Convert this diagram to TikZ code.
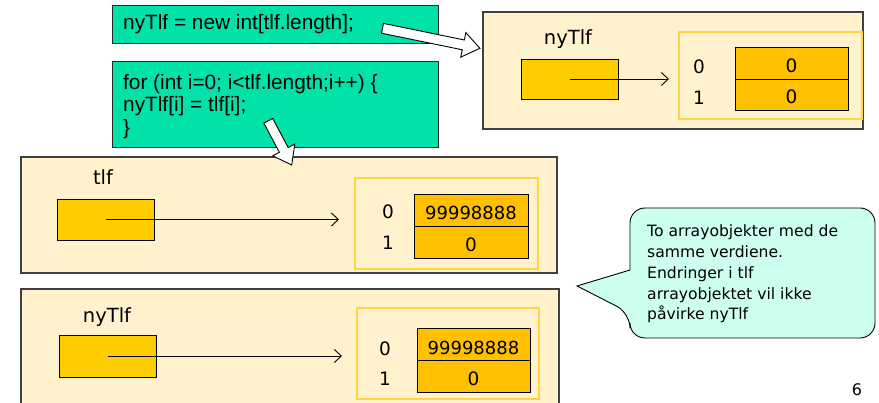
\documentclass[tikz,border=0pt]{standalone}
\usepackage{fontspec}
\setmainfont{Liberation Sans}
\newfontfamily\tah{DejaVu Sans}
\usetikzlibrary{arrows.meta}
\definecolor{codegreen}{RGB}{0,226,168}
\definecolor{lightyel}{RGB}{255,242,204}
\definecolor{outlineyel}{RGB}{255,214,64}
\definecolor{ptryel}{RGB}{255,204,0}
\definecolor{cellyel}{RGB}{255,192,0}
\definecolor{mint}{RGB}{204,255,236}
\definecolor{darkedge}{RGB}{64,64,64}
\begin{document}
\begin{tikzpicture}[x=1pt,y=-1pt,
  box/.style={inner sep=0pt, outer sep=0pt},
  codebox/.style={box, draw=black!85, fill=codegreen, line width=0.9pt},
  heapbox/.style={box, draw=darkedge, fill=lightyel, line width=1.2pt},
  arrbox/.style={box, draw=outlineyel, fill=lightyel, line width=1.1pt},
  ptrbox/.style={box, draw=black, fill=ptryel, line width=0.9pt, minimum width=97pt, minimum height=41pt},
  cellbox/.style={box, draw=black, fill=cellyel, line width=0.9pt, minimum width=113pt, minimum height=32pt},
  codetxt/.style={inner sep=0pt, font=\fontsize{20.8}{22.5}\selectfont, align=left},
  lbl/.style={inner sep=0pt, anchor=base, font=\tah\fontsize{19.5}{22}\selectfont},
  num/.style={inner sep=0pt, anchor=base, font=\tah\fontsize{18.5}{20}\selectfont},
  ref/.style={line width=0.9pt, -{Straight Barb[length=7pt,width=13pt,line width=0.9pt]}},
  blockarrow/.style={draw=black, fill=white, line width=0.9pt, line join=miter}
]
\useasboundingbox (0,0) rectangle (879,403);
\clip (0,0) rectangle (879,403);

% ---------- code boxes ----------
\node[codebox, minimum width=326pt, minimum height=38pt] (code1) at (275,24) {};
\node[codetxt, anchor=base west] (code1t) at (123,30) {nyTlf = new int[tlf.length];};
\node[codebox, minimum width=326pt, minimum height=86pt] (code2) at (275,104) {};
\node[codetxt, anchor=north west] (code2t) at (123,74)
  {for (int i=0; i<tlf.length;i++) \{\\ nyTlf[i] = tlf[i];\\ \}};

% ---------- top right object ----------
\node[heapbox, minimum width=380pt, minimum height=117pt] (objA) at (673,70.5) {};
\node[arrbox, minimum width=183pt, minimum height=87pt] (arrA) at (770.5,75.5) {};
\node[lbl] (labA) at (568,45) {nyTlf};
\node[ptrbox, minimum height=40pt] (ptrA) at (569.5,79) {};
\node[cellbox] (cA0) at (791.5,63) {};
\node[cellbox, minimum height=31pt] (cA1) at (791.5,94.5) {};
\node[num] (iA0) at (699,74) {0};
\node[num] (iA1) at (699,105) {1};
\node[num] (vA0) at (791.5,72.7) {0};
\node[num] (vA1) at (791.5,104) {0};
\coordinate (eA) at (669,79);
\draw[ref] (ptrA.center) -- (eA);

% ---------- tlf object ----------
\node[heapbox, minimum width=536pt, minimum height=116pt] (objB) at (289,215) {};
\node[arrbox, minimum width=183pt, minimum height=91pt] (arrB) at (446.5,223.5) {};
\node[lbl] (labB) at (103,185) {tlf};
\node[ptrbox] (ptrB) at (105.5,219.5) {};
\node[cellbox, minimum width=114pt] (cB0) at (471,210) {};
\node[cellbox, minimum width=114pt] (cB1) at (471,242) {};
\node[num] (iB0) at (388,219) {0};
\node[num] (iB1) at (388,250) {1};
\node[num, font=\tah\fontsize{18}{20}\selectfont] (vB0) at (471,220) {99998888};
\node[num] (vB1) at (471,251.5) {0};
\coordinate (eB) at (339,219.5);
\draw[ref] (ptrB.center) -- (eB);

% ---------- nyTlf object (bottom) ----------
\node[heapbox, minimum width=538pt, minimum height=131pt] (objC) at (290,354.5) {};
\node[arrbox, minimum width=182pt, minimum height=91pt] (arrC) at (448,353.5) {};
\node[lbl] (labC) at (107,323) {nyTlf};
\node[ptrbox, minimum height=42pt] (ptrC) at (107.5,356) {};
\node[cellbox] (cC0) at (473.5,344) {};
\node[cellbox] (cC1) at (473.5,376) {};
\node[num] (iC0) at (385,356) {0};
\node[num] (iC1) at (385,386) {1};
\node[num, font=\tah\fontsize{18}{20}\selectfont] (vC0) at (473.5,355) {99998888};
\node[num] (vC1) at (473.5,386) {0};
\coordinate (eC) at (342,356);
\draw[ref] (ptrC.center) -- (eC);

% ---------- block arrows ----------
\begin{scope}[shift={(382.5,28.3)}, rotate=-11.6]
  \draw[blockarrow] (0,-5) -- (82.5,-5) -- (82.5,-12.5) -- (99.5,0) -- (82.5,12.5) -- (82.5,5) -- (0,5) -- cycle;
\end{scope}
\begin{scope}[shift={(268.3,120.8)}, rotate=-62.1]
  \draw[blockarrow] (0,-5) -- (33,-5) -- (33,-12.5) -- (50,0) -- (33,12.5) -- (33,5) -- (0,5) -- cycle;
\end{scope}

% ---------- callout ----------
\draw[fill=mint, draw=black, line width=0.9pt]
  (630,270) [rounded corners=15pt] -- (630,208) -- (875,208) -- (875,338) -- (630,338) -- (630,313) [sharp corners] -- (577,286) -- cycle;
\node[inner sep=0pt, anchor=north west, align=left, font=\tah\fontsize{15.6}{20.8}\selectfont] (note) at (647,224.7)
  {To arrayobjekter med de\\ samme verdiene.\\ Endringer i tlf\\ arrayobjektet vil ikke\\ påvirke nyTlf};

% ---------- page number ----------
\node[inner sep=0pt, anchor=base, font=\tah\fontsize{16}{18}\selectfont] (page) at (857,396) {6};
\end{tikzpicture}
\end{document}
